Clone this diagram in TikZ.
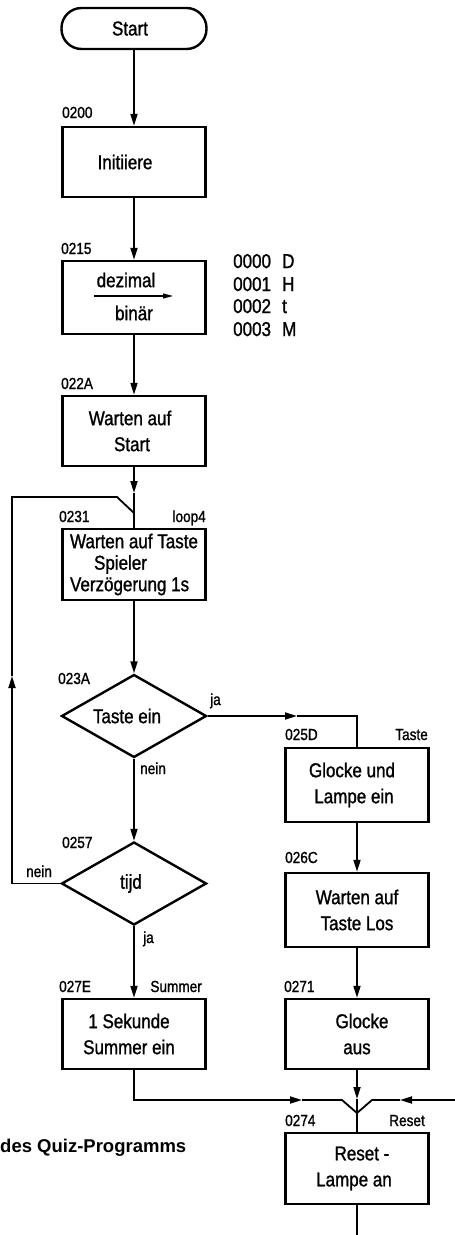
\documentclass[tikz,border=0pt]{standalone}
\usepackage{fontspec}
\setmainfont{Liberation Sans}[FakeStretch=0.85,FakeBold=1.2]
\newfontfamily\capfont{Liberation Sans}
\usetikzlibrary{arrows.meta,shapes.geometric}
\begin{document}
\begin{tikzpicture}[x=1pt,y=-1pt,
  box/.style={draw,line width=2.4pt,minimum width=143pt,minimum height=70pt,inner sep=0pt,font=\fontsize{20}{26}\selectfont,align=center},
  dia/.style={draw,diamond,aspect=1.7,line width=2.4pt,minimum width=145pt,minimum height=83pt,inner sep=0pt,font=\fontsize{20}{26}\selectfont},
  txt/.style={inner sep=0pt,font=\fontsize{20}{26}\selectfont},
  lbl/.style={inner sep=0pt,font=\fontsize{16}{18}\selectfont},
  conn/.style={line width=1.8pt},
  arr/.style={conn,-{Triangle[length=12pt,width=7pt]}},
]
\useasboundingbox (0,0) rectangle (455,1235);

% nodes
\node[draw,line width=2.4pt,rounded corners=20pt,minimum width=145pt,minimum height=41pt,inner sep=0pt,font=\fontsize{20}{26}\selectfont] (start) at (134,28.5) {Start\hspace*{8pt}};
\node[box] (init) at (134,162) {Initiiere\hspace*{18pt}};
\node[box,minimum height=73pt] (dez) at (134,297.5) {};
\node[txt] (dtop) at (126,280) {dezimal};
\node[txt] (dbot) at (134,313) {binär};
\coordinate (dl) at (94,296);
\coordinate (dr) at (173,296);
\draw[line width=1.2pt,-{Triangle[length=10pt,width=5pt]}] (dl) -- (dr);

\node[txt,anchor=base west] (mem1) at (233,268) {\makebox[49pt][l]{0000}D};
\node[txt,anchor=base west] (mem2) at (233,291) {\makebox[49pt][l]{0001}H};
\node[txt,anchor=base west] (mem3) at (233,313) {\makebox[49pt][l]{0002}t};
\node[txt,anchor=base west] (mem4) at (233,336) {\makebox[49pt][l]{0003}M};

\node[box] (wstart) at (134,431) {Warten auf\hspace*{8pt}\\Start\hspace*{4pt}};
\node[box,minimum height=71pt,align=left,font=\fontsize{20}{21.5}\selectfont] (w231) at (134,564.5) {Warten auf Taste\\\hspace*{24pt}Spieler\\Verzögerung 1s};
\node[dia] (d1) at (134,716) {Taste ein\hspace*{14pt}};
\node[dia] (d2) at (134,883.5) {tijd\hspace*{6pt}};
\node[box] (summer) at (134,1034) {1 Sekunde\hspace*{10pt}\\Summer ein\hspace*{10pt}};
\node[box,minimum height=74pt] (glocke) at (357,785) {Glocke und\hspace*{10pt}\\Lampe ein\hspace*{6pt}};
\node[box,minimum height=74pt] (wlos) at (357,910) {Warten auf\\Taste Los};
\node[box] (gaus) at (357,1034) {\hspace*{10pt}Glocke\\aus};
\node[box,minimum height=71pt] (reset) at (357,1168.5) {\hspace*{10pt}Reset -\\Lampe an\hspace*{6pt}};

% labels
\node[lbl,anchor=base west] (l0200) at (62,118) {0200};
\node[lbl,anchor=base west] (l0215) at (61,254) {0215};
\node[lbl,anchor=base west] (l022A) at (61,389) {022A};
\node[lbl,anchor=base west] (l0231) at (59,522) {0231};
\node[lbl,anchor=base east] (lloop) at (206,522) {loop4};
\node[lbl,anchor=base west] (l023A) at (58,684) {023A};
\node[lbl,anchor=base west] (lja1) at (210,705) {ja};
\node[lbl,anchor=base west] (lnein1) at (140,774) {nein};
\node[lbl,anchor=base west] (l025D) at (285,740) {025D};
\node[lbl,anchor=base east] (ltaste) at (428,740) {Taste};
\node[lbl,anchor=base west] (l026C) at (285,863) {026C};
\node[lbl,anchor=base west] (l0257) at (62,848) {0257};
\node[lbl,anchor=base west] (lnein2) at (26,877) {nein};
\node[lbl,anchor=base west] (lja2) at (143,943) {ja};
\node[lbl,anchor=base west] (l027E) at (59,992) {027E};
\node[lbl,anchor=base east] (lsummer) at (202,992) {Summer};
\node[lbl,anchor=base west] (l0271) at (284,992) {0271};
\node[lbl,anchor=base west] (l0274) at (285,1126) {0274};
\node[lbl,anchor=base east] (lreset) at (425,1126) {Reset};

\node[anchor=base west,inner sep=0pt,font={\capfont\bfseries\fontsize{18.5}{20}\selectfont}] (cap) at (0,1152) {des Quiz-Programms};

% coordinates
\coordinate (a1) at (134,493);
\coordinate (m2) at (134,513);
\coordinate (jm) at (297,716);
\coordinate (jc) at (357,716);
\coordinate (lb) at (12,883.5);
\coordinate (la) at (12,676);
\coordinate (lt) at (12,497);
\coordinate (lk) at (117,497);
\coordinate (a2) at (357,1099);
\coordinate (m3) at (357,1113);
\coordinate (a3) at (302,1100);
\coordinate (k3) at (342,1100);
\coordinate (rin) at (455,1100);
\coordinate (a4) at (400,1100);
\coordinate (k4) at (372,1100);
\coordinate (out) at (357,1235);

% connectors
\draw[arr] (start.south) -- (init.north);
\draw[arr] (init.south) -- (dez.north);
\draw[arr] (dez.south) -- (wstart.north);
\draw[arr] (wstart.south) -- (a1);
\draw[conn] (a1) -- (m2) -- (w231.north);
\draw[arr] (w231.south) -- (d1.north);
\draw[arr] (d1.east) -- (jm);
\draw[conn] (jm) -- (jc) -- (glocke.north);
\draw[arr] (d1.south) -- (d2.north);
\draw[arr] (d2.west) -- (lb) -- (la);
\draw[conn] (la) -- (lt) -- (lk) -- (m2);
\draw[arr] (d2.south) -- (summer.north);
\draw[arr] (glocke.south) -- (wlos.north);
\draw[arr] (wlos.south) -- (gaus.north);
\draw[arr] (gaus.south) -- (a2);
\draw[conn] (a2) -- (m3);
\draw[arr] (summer.south) |- (a3);
\draw[conn] (a3) -- (k3) -- (m3);
\draw[arr] (rin) -- (a4);
\draw[conn] (a4) -- (k4) -- (m3);
\draw[conn] (m3) -- (reset.north);
\draw[conn] (reset.south) -- (out);
\end{tikzpicture}
\end{document}
